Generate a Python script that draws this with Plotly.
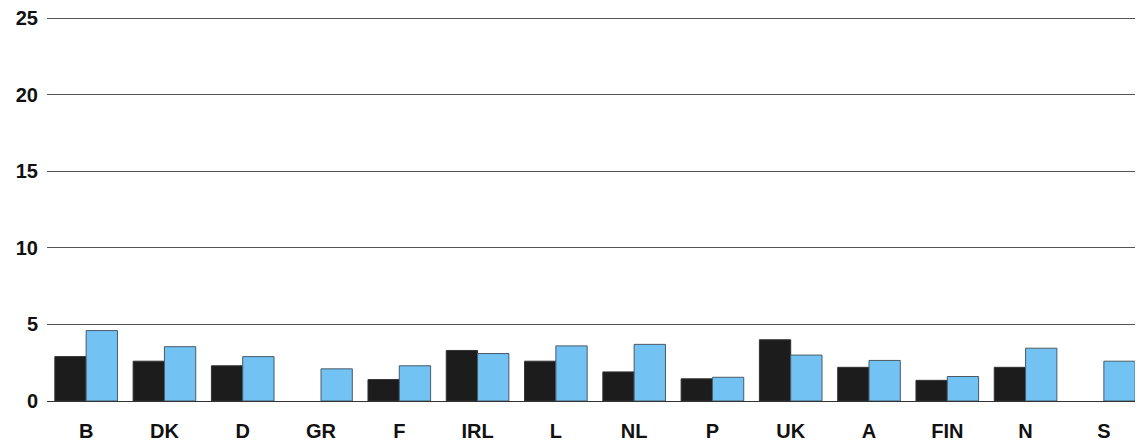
import plotly.graph_objects as go

categories = ["B", "DK", "D", "GR", "F", "IRL", "L", "NL", "P", "UK", "A", "FIN", "N", "S"]
series_dark = [2.9, 2.6, 2.3, None, 1.4, 3.3, 2.6, 1.9, 1.45, 4.0, 2.2, 1.35, 2.2, None]
series_blue = [4.6, 3.55, 2.9, 2.1, 2.3, 3.1, 3.6, 3.7, 1.55, 3.0, 2.65, 1.6, 3.45, 2.6]
y_ticks = [0, 5, 10, 15, 20, 25]

fig = go.Figure()
fig.add_trace(go.Bar(
    x=categories, y=series_dark, name="dark",
    marker=dict(color="#1c1c1c", line=dict(color="#333333", width=1)),
))
fig.add_trace(go.Bar(
    x=categories, y=series_blue, name="blue",
    marker=dict(color="#72c2f4", line=dict(color="#4a5a66", width=1)),
))

fig.update_layout(
    width=1135, height=435,
    margin=dict(l=39, r=0, t=8, b=42, autoexpand=False),
    barmode="group", bargap=0.2, bargroupgap=0,
    showlegend=False,
    plot_bgcolor="white", paper_bgcolor="white",
    font=dict(family="Liberation Sans, Arial, sans-serif", color="#111111"),
)
fig.update_xaxes(
    showgrid=False, showline=False, ticks="", automargin=False,
    tickfont=dict(size=20, family="Liberation Sans, Arial, sans-serif", weight="bold"),
    ticklabelstandoff=16, ticklabeloverflow="allow",
)
fig.update_yaxes(
    range=[0, 25.15], tickvals=y_ticks, automargin=False,
    showgrid=True, gridcolor="#555555", gridwidth=1,
    zeroline=True, zerolinecolor="#333333", zerolinewidth=1,
    showline=False, ticks="",
    tickfont=dict(size=20, family="Liberation Sans, Arial, sans-serif", weight="bold"),
    ticklabelstandoff=8, ticklabeloverflow="allow",
)

fig.write_html("out.html")
